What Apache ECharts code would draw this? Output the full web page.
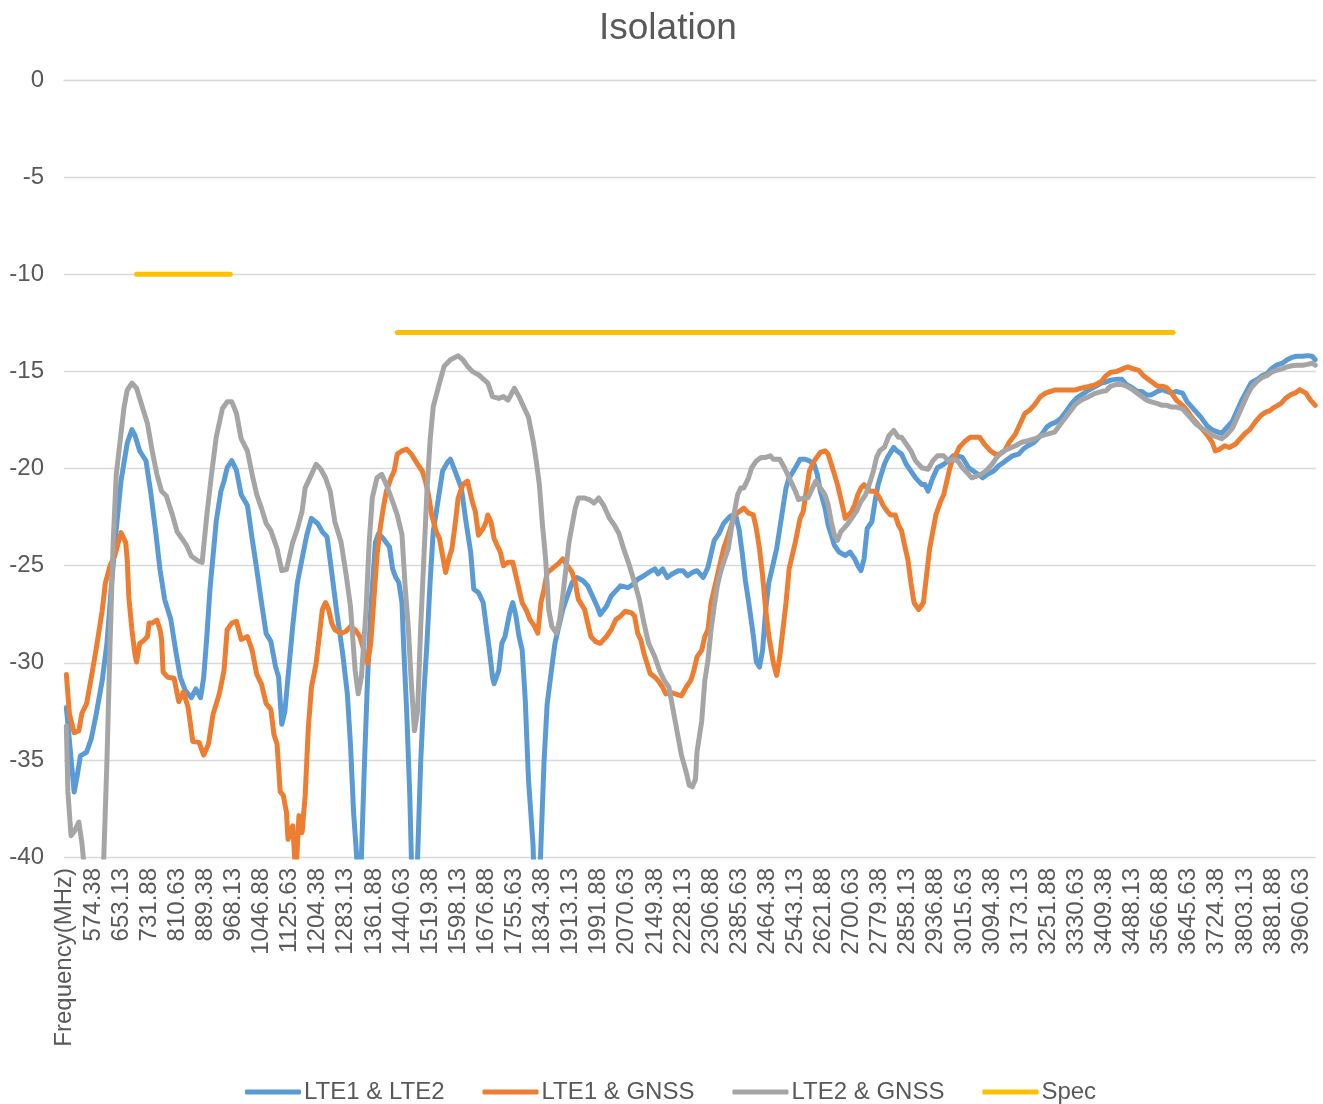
<!DOCTYPE html>
<html><head><meta charset="utf-8">
<script src="https://cdn.jsdelivr.net/npm/echarts@6/dist/echarts.min.js"></script>
<style>html,body{margin:0;padding:0;background:#fff}#c{width:1323px;height:1104px}</style>
</head><body><div id="c"></div>
<script>
// ---- axis definition ----
const FREQ_START = 500, FREQ_STEP = 4.375, FREQ_COUNT = 801;
const AXIS_TITLE = 'Frequency(MHz)';
const Y_MIN = -40, Y_MAX = 0, Y_STEP = 5;

// ---- series values: [frequency MHz, isolation dB] ----
const lte1lte2 = [[500,-32.3],[520,-36.65],[529,-35.8],[538,-34.8],[557,-34.6],[571,-33.9],[585,-32.7],[599,-30.9],[613,-29.0],[627,-25.9],[641,-23.1],[655,-20.65],[669,-18.7],[683,-18.0],[693,-18.3],[707,-19.1],[721,-19.6],[735,-21.2],[749,-23.1],[763,-25.2],[777,-26.75],[791,-27.8],[805,-29.35],[819,-30.75],[833,-31.4],[852,-31.8],[861,-31.35],[875,-31.8],[885,-30.74],[894,-28.65],[903,-26.22],[913,-24.48],[922,-22.74],[931,-21.17],[941,-20.65],[950,-19.96],[964,-19.6],[978,-20.1],[992,-21.35],[1006,-21.9],[1020,-23.6],[1034,-25.2],[1048,-26.9],[1062,-28.5],[1072,-28.9],[1086,-30.2],[1095,-30.74],[1104,-33.17],[1114,-32.5],[1123,-30.74],[1133,-28.13],[1147,-25.87],[1161,-24.65],[1175,-23.43],[1189,-22.57],[1203,-22.83],[1217,-23.26],[1231,-23.52],[1245,-25.35],[1259,-27.26],[1273,-29.52],[1287,-31.6],[1296,-34.2],[1306,-37.7],[1313,-40],[1320,-46],[1327,-40],[1334,-35.1],[1343,-30.74],[1352,-27.26],[1366,-23.8],[1376,-23.35],[1390,-23.6],[1404,-24.04],[1413,-25.17],[1423,-25.6],[1432,-25.87],[1441,-26.9],[1446,-29.0],[1455,-32.48],[1463,-36.83],[1469,-40],[1476,-47],[1483,-40],[1493,-35.1],[1502,-31.6],[1511,-29.0],[1521,-25.87],[1530,-23.26],[1540,-21.7],[1554,-20.13],[1568,-19.7],[1577,-19.52],[1591,-20.13],[1605,-21.0],[1619,-22.74],[1633,-24.3],[1644,-26.22],[1656,-26.39],[1666,-26.9],[1675,-28.13],[1685,-29.35],[1694,-30.74],[1700,-31.08],[1713,-30.4],[1722,-29.0],[1731,-28.65],[1741,-27.43],[1750,-26.9],[1759,-27.6],[1769,-28.65],[1778,-29.35],[1787,-31.96],[1797,-35.96],[1806,-39.43],[1816,-46],[1831,-39.43],[1840,-35.09],[1849,-32.13],[1859,-30.22],[1868,-29.0],[1877,-28.3],[1890,-27.26],[1904,-26.56],[1918,-25.87],[1932,-25.61],[1946,-25.78],[1961,-26.04],[1975,-26.56],[1989,-27.09],[1998,-27.52],[2012,-27.09],[2026,-26.56],[2040,-26.3],[2054,-26.04],[2073,-26.13],[2087,-25.96],[2101,-25.7],[2120,-25.52],[2134,-25.35],[2148,-25.17],[2157,-25.43],[2171,-25.17],[2185,-25.61],[2199,-25.43],[2213,-25.26],[2227,-25.26],[2241,-25.52],[2255,-25.35],[2269,-25.26],[2286,-25.61],[2297,-25.09],[2307,-24.39],[2316,-23.7],[2330,-23.35],[2344,-22.83],[2358,-22.48],[2367,-22.39],[2377,-22.48],[2386,-23.17],[2396,-24.39],[2405,-25.78],[2414,-26.83],[2424,-28.57],[2433,-29.96],[2442,-30.22],[2452,-29.35],[2461,-27.26],[2470,-25.87],[2480,-24.83],[2489,-24.13],[2498,-23.09],[2508,-22.04],[2517,-21.0],[2527,-20.48],[2541,-19.96],[2555,-19.52],[2569,-19.52],[2583,-19.61],[2597,-19.78],[2606,-20.3],[2615,-21.17],[2625,-22.04],[2634,-22.91],[2643,-23.43],[2653,-23.96],[2667,-24.3],[2681,-24.48],[2695,-24.3],[2709,-24.65],[2718,-25.0],[2726,-25.26],[2737,-24.65],[2746,-23.09],[2756,-22.74],[2765,-21.7],[2774,-20.83],[2784,-20.3],[2793,-19.78],[2803,-19.43],[2817,-18.91],[2826,-19.09],[2840,-19.26],[2854,-19.78],[2868,-20.13],[2882,-20.48],[2896,-20.83],[2905,-20.83],[2915,-21.17],[2929,-20.48],[2943,-19.96],[2957,-19.78],[2971,-19.61],[2985,-19.35],[2999,-19.35],[3013,-19.43],[3027,-19.96],[3041,-20.13],[3055,-20.3],[3069,-20.48],[3083,-20.3],[3097,-20.13],[3111,-19.87],[3125,-19.7],[3139,-19.52],[3153,-19.35],[3167,-19.26],[3181,-19.0],[3195,-18.83],[3214,-18.65],[3233,-18.22],[3247,-17.87],[3261,-17.7],[3275,-17.61],[3289,-17.43],[3303,-17.0],[3317,-16.65],[3331,-16.39],[3345,-16.22],[3364,-15.96],[3383,-15.78],[3401,-15.6],[3415,-15.55],[3429,-15.45],[3443,-15.4],[3457,-15.4],[3471,-15.67],[3486,-15.85],[3500,-16.03],[3514,-16.03],[3528,-16.21],[3542,-16.21],[3556,-16.03],[3570,-15.94],[3584,-16.03],[3598,-16.12],[3612,-16.03],[3626,-16.12],[3640,-16.57],[3654,-16.84],[3668,-17.11],[3682,-17.38],[3696,-17.83],[3710,-18.01],[3724,-18.1],[3738,-18.19],[3752,-17.92],[3766,-17.56],[3780,-17.02],[3794,-16.48],[3808,-16.03],[3822,-15.58],[3836,-15.4],[3850,-15.22],[3864,-15.13],[3878,-14.86],[3892,-14.68],[3906,-14.58],[3920,-14.4],[3935,-14.28],[3949,-14.22],[3963,-14.22],[3977,-14.19],[3991,-14.22],[4000,-14.4]];

const lte1gnss = [[500,-30.6],[510,-32.65],[520,-33.6],[534,-33.5],[543,-32.6],[557,-32.1],[571,-30.75],[585,-29.35],[599,-27.3],[609,-25.9],[623,-25.0],[637,-24.5],[651,-23.3],[665,-23.8],[669,-24.7],[674,-26.6],[683,-28.3],[692,-29.6],[699,-29.96],[707,-29.0],[716,-28.9],[726,-28.65],[733,-27.96],[740,-27.96],[754,-27.8],[763,-28.3],[768,-28.8],[772,-30.48],[786,-30.75],[800,-30.8],[814,-32.0],[828,-31.5],[842,-32.3],[856,-34.05],[871,-34.1],[885,-34.75],[899,-34.2],[913,-32.65],[927,-31.6],[941,-30.4],[950,-28.3],[964,-27.96],[978,-27.87],[992,-28.8],[1006,-28.65],[1020,-29.35],[1034,-30.6],[1048,-31.1],[1062,-32.1],[1072,-32.4],[1081,-33.7],[1090,-34.2],[1100,-36.65],[1109,-36.83],[1119,-37.7],[1123,-39.09],[1133,-38.4],[1142,-41],[1151,-37.87],[1161,-38.74],[1170,-36.83],[1179,-33.35],[1189,-31.26],[1198,-30.04],[1207,-28.65],[1217,-27.26],[1226,-26.9],[1235,-27.26],[1245,-27.96],[1254,-28.3],[1268,-28.48],[1282,-28.39],[1296,-28.13],[1310,-28.3],[1324,-28.65],[1343,-30.04],[1352,-29.0],[1362,-26.74],[1371,-24.48],[1380,-23.09],[1390,-22.04],[1399,-21.17],[1409,-20.48],[1418,-20.13],[1427,-19.26],[1441,-19.09],[1455,-19.0],[1469,-19.26],[1483,-19.78],[1497,-20.13],[1507,-20.65],[1516,-21.35],[1525,-22.39],[1535,-23.26],[1544,-23.6],[1554,-24.48],[1563,-25.35],[1572,-24.65],[1582,-24.13],[1591,-22.91],[1600,-21.52],[1610,-20.83],[1624,-20.65],[1638,-21.7],[1647,-22.22],[1656,-23.43],[1666,-23.09],[1675,-22.74],[1680,-22.39],[1689,-22.74],[1697,-23.6],[1708,-23.96],[1717,-24.3],[1727,-25.0],[1736,-24.83],[1750,-24.83],[1759,-25.52],[1769,-26.22],[1778,-26.91],[1792,-27.35],[1801,-27.78],[1811,-28.13],[1820,-28.48],[1830,-26.91],[1839,-26.22],[1848,-25.35],[1862,-25.17],[1876,-24.91],[1890,-24.65],[1904,-25.0],[1918,-25.35],[1928,-25.87],[1937,-26.74],[1951,-27.26],[1961,-27.96],[1970,-28.65],[1984,-28.91],[1998,-29.0],[2012,-28.65],[2026,-28.3],[2040,-27.78],[2054,-27.6],[2068,-27.35],[2082,-27.43],[2091,-27.6],[2101,-28.48],[2110,-28.83],[2120,-29.52],[2129,-30.04],[2138,-30.56],[2148,-30.74],[2157,-30.91],[2171,-31.26],[2180,-31.6],[2194,-31.52],[2208,-31.6],[2222,-31.7],[2236,-31.26],[2251,-30.91],[2260,-30.4],[2269,-29.7],[2279,-29.35],[2288,-28.65],[2297,-28.3],[2307,-26.91],[2316,-26.22],[2325,-25.52],[2335,-24.83],[2344,-24.13],[2353,-23.43],[2363,-22.91],[2372,-22.39],[2386,-22.22],[2400,-22.04],[2414,-22.3],[2424,-22.39],[2433,-23.09],[2442,-24.13],[2452,-25.52],[2461,-27.26],[2470,-28.65],[2480,-30.04],[2489,-30.65],[2498,-29.7],[2508,-28.3],[2517,-26.91],[2527,-25.17],[2536,-24.48],[2545,-23.78],[2555,-22.57],[2564,-22.22],[2573,-21.17],[2583,-20.13],[2597,-19.61],[2611,-19.17],[2625,-19.09],[2634,-19.26],[2643,-19.78],[2653,-20.3],[2662,-20.83],[2672,-21.52],[2681,-22.57],[2690,-22.39],[2700,-22.22],[2709,-21.87],[2718,-21.35],[2728,-21.0],[2737,-20.83],[2751,-21.17],[2765,-21.17],[2779,-21.52],[2788,-21.87],[2803,-22.22],[2812,-22.39],[2821,-22.39],[2831,-22.91],[2840,-23.2],[2849,-23.96],[2859,-24.65],[2868,-25.87],[2877,-26.91],[2887,-27.26],[2901,-26.91],[2910,-25.52],[2919,-24.13],[2929,-23.26],[2938,-22.39],[2948,-21.7],[2957,-21.35],[2966,-20.65],[2976,-19.96],[2985,-19.43],[2994,-19.26],[3004,-18.91],[3018,-18.57],[3032,-18.39],[3046,-18.39],[3060,-18.39],[3074,-18.74],[3088,-19.09],[3102,-19.26],[3116,-19.26],[3130,-19.09],[3144,-18.65],[3158,-18.22],[3172,-17.7],[3186,-17.17],[3200,-17.0],[3214,-16.74],[3228,-16.3],[3242,-16.13],[3256,-16.04],[3270,-15.96],[3289,-15.96],[3308,-15.96],[3326,-15.96],[3345,-15.87],[3364,-15.78],[3383,-15.7],[3401,-15.52],[3415,-15.22],[3429,-15.04],[3443,-15.0],[3462,-14.86],[3476,-14.77],[3490,-14.86],[3504,-14.95],[3518,-15.22],[3532,-15.4],[3546,-15.58],[3556,-15.76],[3570,-15.76],[3584,-15.85],[3598,-16.12],[3612,-16.48],[3626,-16.75],[3640,-17.02],[3654,-17.38],[3668,-17.65],[3682,-17.92],[3696,-18.29],[3710,-18.65],[3719,-19.1],[3733,-19.0],[3747,-18.83],[3761,-18.92],[3775,-18.74],[3790,-18.47],[3804,-18.2],[3818,-18.01],[3832,-17.56],[3846,-17.29],[3860,-17.11],[3874,-17.02],[3888,-16.84],[3902,-16.66],[3916,-16.39],[3930,-16.21],[3944,-16.12],[3958,-15.94],[3972,-16.12],[3986,-16.48],[4000,-16.75]];

const lte2gnss = [[500,-33.26],[506,-36.65],[515,-38.9],[524,-38.7],[534,-38.2],[543,-39.3],[552,-41],[565,-46],[592,-46],[600,-42],[604,-39.95],[613,-35.1],[623,-29.0],[632,-23.8],[641,-20.3],[651,-18.2],[660,-16.83],[669,-15.96],[683,-15.6],[698,-15.87],[712,-16.65],[726,-17.7],[740,-19.1],[754,-20.3],[768,-21.17],[782,-21.4],[796,-22.4],[810,-23.26],[824,-23.6],[838,-23.96],[852,-24.5],[866,-24.74],[880,-24.83],[894,-22.4],[908,-20.3],[922,-18.39],[936,-16.91],[950,-16.57],[964,-16.57],[978,-17.17],[992,-18.48],[1006,-19.1],[1020,-20.3],[1034,-21.35],[1048,-22.04],[1062,-22.83],[1072,-23.2],[1090,-24.13],[1104,-25.26],[1119,-25.2],[1133,-23.8],[1147,-23.1],[1161,-22.2],[1170,-21.0],[1184,-20.48],[1198,-19.78],[1212,-20.04],[1226,-20.48],[1240,-21.17],[1254,-22.74],[1268,-23.8],[1282,-25.35],[1296,-27.09],[1310,-30.4],[1317,-31.6],[1329,-30.74],[1338,-27.26],[1348,-23.8],[1357,-21.5],[1371,-20.48],[1385,-20.3],[1399,-20.83],[1413,-21.7],[1427,-22.4],[1441,-23.4],[1451,-26.04],[1460,-28.13],[1469,-31.08],[1476,-33.5],[1483,-32.48],[1493,-28.13],[1502,-24.65],[1511,-21.17],[1521,-18.57],[1530,-16.83],[1544,-15.6],[1558,-14.74],[1577,-14.4],[1596,-14.2],[1610,-14.4],[1624,-14.74],[1638,-15.0],[1656,-15.17],[1680,-15.6],[1694,-16.3],[1713,-16.39],[1727,-16.3],[1736,-16.48],[1755,-15.87],[1769,-16.3],[1783,-16.83],[1797,-17.35],[1806,-18.57],[1815,-19.61],[1825,-20.83],[1834,-22.91],[1844,-24.65],[1853,-27.26],[1859,-28.13],[1872,-28.48],[1881,-27.78],[1890,-26.56],[1900,-25.17],[1909,-23.78],[1918,-22.91],[1928,-22.04],[1937,-21.52],[1951,-21.52],[1965,-21.6],[1979,-21.78],[1993,-21.52],[2007,-21.87],[2021,-22.57],[2035,-22.91],[2049,-23.35],[2063,-24.13],[2077,-24.83],[2091,-25.87],[2105,-26.74],[2120,-27.96],[2134,-29.0],[2148,-29.7],[2162,-30.4],[2176,-30.91],[2190,-31.26],[2199,-32.13],[2213,-33.87],[2222,-34.74],[2236,-35.61],[2246,-36.3],[2255,-36.39],[2262,-36.0],[2269,-34.57],[2279,-33.0],[2288,-30.91],[2297,-29.87],[2307,-28.3],[2316,-27.09],[2325,-26.04],[2335,-25.35],[2344,-24.83],[2353,-24.13],[2363,-23.09],[2372,-22.22],[2382,-21.35],[2391,-21.0],[2400,-21.0],[2410,-20.48],[2419,-19.96],[2433,-19.61],[2447,-19.43],[2461,-19.43],[2475,-19.35],[2484,-19.52],[2498,-19.52],[2512,-19.96],[2522,-20.3],[2531,-20.65],[2541,-21.17],[2550,-21.6],[2564,-21.52],[2578,-21.52],[2592,-21.0],[2601,-20.65],[2615,-21.0],[2625,-21.35],[2634,-21.87],[2643,-22.74],[2653,-23.43],[2662,-23.7],[2672,-23.26],[2686,-22.91],[2700,-22.57],[2714,-22.22],[2728,-21.7],[2742,-21.35],[2751,-20.65],[2760,-20.13],[2770,-19.43],[2779,-19.09],[2793,-18.91],[2807,-18.3],[2817,-18.04],[2831,-18.39],[2840,-18.39],[2854,-18.74],[2868,-19.09],[2882,-19.61],[2896,-19.96],[2915,-20.04],[2929,-19.61],[2943,-19.35],[2957,-19.35],[2971,-19.61],[2985,-19.52],[2999,-19.61],[3013,-19.96],[3027,-20.3],[3036,-20.48],[3050,-20.39],[3064,-20.3],[3079,-20.13],[3093,-19.78],[3107,-19.43],[3121,-19.17],[3139,-19.0],[3158,-18.83],[3177,-18.65],[3195,-18.57],[3214,-18.48],[3233,-18.3],[3252,-18.22],[3270,-18.13],[3289,-17.7],[3308,-17.17],[3326,-16.74],[3345,-16.48],[3364,-16.3],[3383,-16.13],[3401,-16.04],[3415,-16.0],[3429,-15.76],[3443,-15.67],[3457,-15.67],[3471,-15.76],[3486,-15.94],[3500,-16.12],[3514,-16.3],[3528,-16.48],[3542,-16.57],[3556,-16.66],[3570,-16.75],[3584,-16.75],[3598,-16.84],[3612,-16.84],[3626,-16.93],[3640,-17.2],[3654,-17.47],[3668,-17.74],[3682,-17.92],[3696,-18.1],[3710,-18.29],[3724,-18.38],[3738,-18.47],[3752,-18.29],[3766,-17.92],[3780,-17.38],[3794,-16.84],[3808,-16.3],[3822,-15.85],[3836,-15.49],[3850,-15.31],[3864,-15.22],[3878,-15.04],[3892,-14.95],[3906,-14.86],[3920,-14.77],[3935,-14.71],[3949,-14.68],[3963,-14.68],[3977,-14.64],[3991,-14.58],[4000,-14.68]];

// spec limits: [start MHz, end MHz, limit dB]
const specLow = [698, 960, -10];
const specHigh = [1427, 3600, -13];

// ---- build ----
const categories = [AXIS_TITLE];
for (let k = 0; k < FREQ_COUNT; k++) categories.push((FREQ_START + k * FREQ_STEP).toFixed(2));
const idx = f => Math.round((f - FREQ_START) / FREQ_STEP) + 1;
const toSeries = arr => arr.map(p => [idx(p[0]), p[1]]);
const specSeries = s => [[idx(s[0]), s[2]], [idx(s[1]), s[2]]];

const TXT = '#595959';
const FONT = '"Liberation Sans", Arial, sans-serif';
const lineSeries = (name, data, color) => ({
  name, type: 'line', data, symbol: 'none', clip: true,
  lineStyle: { color, width: 5, join: 'round', cap: 'round' },
  itemStyle: { color }, emphasis: { disabled: true }
});

const chart = echarts.init(document.getElementById('c'), null, { renderer: 'canvas' });
chart.setOption({
  animation: false,
  backgroundColor: '#ffffff',
  textStyle: { fontFamily: FONT },
  title: { text: 'Isolation', left: 594, top: 5,
    textStyle: { fontSize: 37, fontWeight: 'normal', color: TXT, fontFamily: FONT } },
  legend: {
    top: 1075, left: 240, icon: 'roundRect', itemWidth: 56, itemHeight: 5, itemGap: 38,
    textStyle: { fontSize: 24, color: TXT, fontFamily: FONT, padding: [0, 0, 0, -2] },
    data: ['LTE1 & LTE2', 'LTE1 & GNSS', 'LTE2 & GNSS', 'Spec']
  },
  grid: { left: 64, right: 7, top: 80, bottom: 247, containLabel: false },
  xAxis: {
    type: 'category', data: categories, boundaryGap: true,
    axisLine: { lineStyle: { color: '#d9d9d9', width: 1.3 } },
    axisTick: { show: false },
    splitLine: { show: false },
    axisLabel: { interval: 17, rotate: 90, fontSize: 24, color: TXT, margin: 11, fontFamily: FONT }
  },
  yAxis: {
    type: 'value', min: Y_MIN, max: Y_MAX, interval: Y_STEP,
    axisLine: { show: false }, axisTick: { show: false },
    splitLine: { lineStyle: { color: '#d9d9d9', width: 1.3 } },
    axisLabel: { fontSize: 24, color: TXT, margin: 20, fontFamily: FONT }
  },
  series: [
    lineSeries('LTE1 & LTE2', toSeries(lte1lte2), '#5B9BD5'),
    lineSeries('LTE1 & GNSS', toSeries(lte1gnss), '#ED7D31'),
    lineSeries('LTE2 & GNSS', toSeries(lte2gnss), '#A5A5A5'),
    lineSeries('Spec', specSeries(specLow), '#FFC000'),
    lineSeries('Spec', specSeries(specHigh), '#FFC000')
  ]
});
</script>
</body></html>
